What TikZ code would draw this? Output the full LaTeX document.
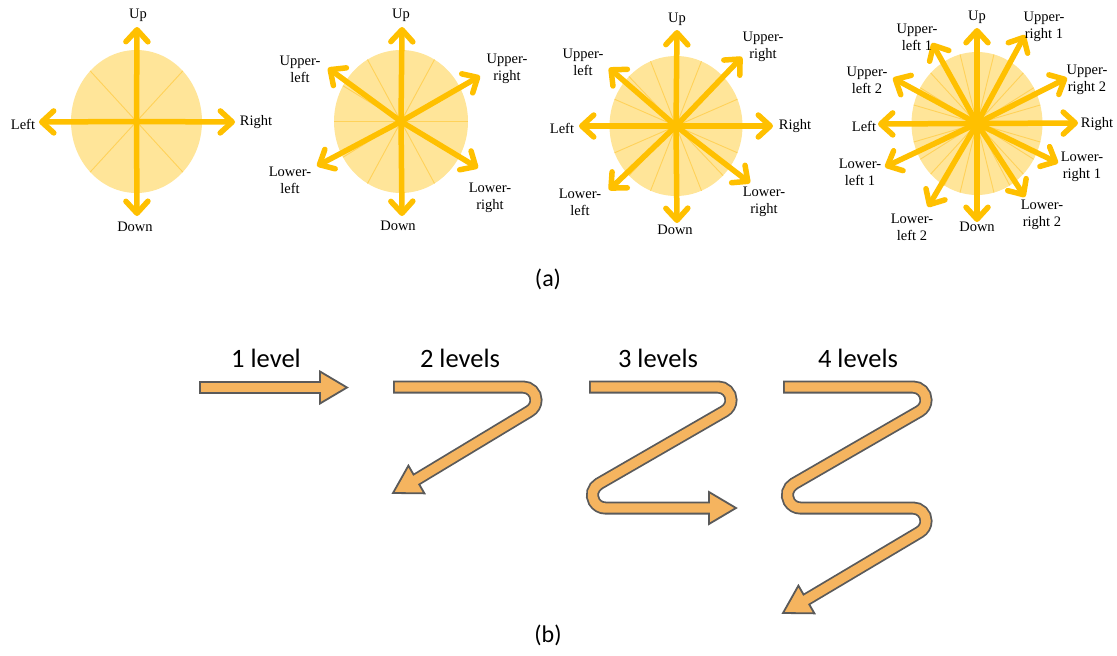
\documentclass[tikz,border=0pt]{standalone}
\usepackage{fontspec}
\setmainfont{Liberation Serif}
\newfontfamily\calibri{Carlito}
\usetikzlibrary{arrows.meta}
\definecolor{gold}{RGB}{255,192,0}
\definecolor{paleGold}{RGB}{255,229,153}
\definecolor{sectorLine}{RGB}{255,210,90}
\definecolor{bandFill}{RGB}{245,180,95}
\definecolor{bandEdge}{RGB}{90,90,90}
\tikzset{
  dirarrow/.style={gold, line width=5.5pt, line cap=round, -{Straight Barb[length=12pt,width=22pt,round]}},
  sector/.style={sectorLine, line width=0.9pt},
  dirlabel/.style={font=\fontsize{14.5}{17}\selectfont, align=center, inner sep=0pt},
  bandedge/.style={draw=bandEdge, line width=13pt, line cap=rect},
  bandfill/.style={draw=bandFill, line width=9.4pt, line cap=rect},
  bandhead/.style={fill=bandFill, draw=bandEdge, line width=1.8pt, line join=miter},
  levellabel/.style={font=\calibri\fontsize{26.5}{30}\selectfont, inner sep=0pt},
  panellabel/.style={font=\calibri\fontsize{24}{28}\selectfont, inner sep=0pt}
}
% band with tip: path, head base, heading
\newcommand{\levelband}[3]{%
  \draw[bandedge] #1;
  \filldraw[bandhead] (#2) +(#3+90:16) -- +(#3:27) -- +(#3-90:16) -- cycle;
  \draw[bandfill] #1;}
\begin{document}
\begin{tikzpicture}[x=1pt, y=-1pt]
\useasboundingbox (0,0) rectangle (1117,656);
% (a) four directions
\coordinate (c1) at (136.5,121.5);
\fill[paleGold] (c1) ellipse [x radius=65.5, y radius=71.5];
\foreach \t in {0,45,...,315} \draw[sector] (c1) -- ++({65.5*cos(\t)},{71.5*sin(\t)});
\foreach \x/\y in {137/27,137/216,39/122,235/122} \draw[dirarrow] (c1) -- (\x,\y);
\node[dirlabel] (up1) at (138,15) {Up};
\node[dirlabel] (down1) at (135,227) {Down};
\node[dirlabel] (left1) at (23,124) {Left};
\node[dirlabel] (right1) at (256,122) {Right};
% (a) six directions
\coordinate (c2) at (401,121.5);
\fill[paleGold] (c2) ellipse [x radius=67, y radius=71.5];
\foreach \t in {0,30,...,330} \draw[sector] (c2) -- ++({67*cos(\t)},{71.5*sin(\t)});
\foreach \x/\y in {402/27,402/216,328/68,480/76,317/166,478/168} \draw[dirarrow] (c2) -- (\x,\y);
\node[dirlabel] (up2) at (401,15) {Up};
\node[dirlabel] (down2) at (398,226) {Down};
\node[dirlabel] (ul2) at (300,69) {Upper-\\left};
\node[dirlabel] (ur2) at (507,69) {Upper-\\right};
\node[dirlabel] (ll2) at (290,180) {Lower-\\left};
\node[dirlabel] (lr2) at (490,198) {Lower-\\right};
% (a) eight directions
\coordinate (c3) at (676,126);
\fill[paleGold] (c3) ellipse [x radius=66.5, y radius=70];
\foreach \t in {0,22.5,...,337.5} \draw[sector] (c3) -- ++({66.5*cos(\t)},{70*sin(\t)});
\foreach \x/\y in {677/30,677/223,579/126,773/126,609/68,742/57,609/190,750/183} \draw[dirarrow] (c3) -- (\x,\y);
\node[dirlabel] (up3) at (677,19) {Up};
\node[dirlabel] (down3) at (675,230) {Down};
\node[dirlabel] (left3) at (562,128) {Left};
\node[dirlabel] (right3) at (795,126) {Right};
\node[dirlabel] (ul3) at (583,62) {Upper-\\left};
\node[dirlabel] (ur3) at (763,47) {Upper-\\right};
\node[dirlabel] (ll3) at (580,202) {Lower-\\left};
\node[dirlabel] (lr3) at (764,202) {Lower-\\right};
% (a) twelve directions
\coordinate (c4) at (977,123.5);
\fill[paleGold] (c4) ellipse [x radius=65.5, y radius=71.5];
\foreach \t in {0,15,...,345} \draw[sector] (c4) -- ++({65.5*cos(\t)},{71.5*sin(\t)});
\foreach \x/\y in {977/28,977/222,878/124,1078/123,1025/35,1067/78,1058/163,1025/197,932/43,893/78,885/167,928/207} \draw[dirarrow] (c4) -- (\x,\y);
\node[dirlabel] (up4) at (977,17) {Up};
\node[dirlabel] (down4) at (977,227) {Down};
\node[dirlabel] (left4) at (864,126) {Left};
\node[dirlabel] (right4) at (1097,124) {Right};
\node[dirlabel] (ur4a) at (1044,27) {Upper-\\right 1};
\node[dirlabel] (ur4b) at (1087,80) {Upper-\\right 2};
\node[dirlabel] (lr4a) at (1082,167) {Lower-\\right 1};
\node[dirlabel] (lr4b) at (1042,215) {Lower-\\right 2};
\node[dirlabel] (ul4a) at (917,37) {Upper-\\left 1};
\node[dirlabel] (ul4b) at (867,80) {Upper-\\left 2};
\node[dirlabel] (ll4a) at (860,172) {Lower-\\left 1};
\node[dirlabel] (ll4b) at (912,227) {Lower-\\left 2};
\node[panellabel] (capa) at (548,279) {(a)};
% (b) scan levels
\node[levellabel] (lev1) at (266,358) {1 level};
\node[levellabel] (lev2) at (460,358) {2 levels};
\node[levellabel] (lev3) at (658,358) {3 levels};
\node[levellabel] (lev4) at (858,358) {4 levels};
\levelband{(205.5,387.5) -- (320,387.5)}{320,387.5}{0}
\levelband{(399.5,387) -- (523,387) arc[start angle=-90,end angle=60,radius=13] -- (416.4,479.5)}{416.4,479.5}{150}
\levelband{(595.5,387) -- (718,387) arc[start angle=-90,end angle=60,radius=13] -- ++(150:145) arc[start angle=240,end angle=90,radius=13] -- (709,508)}{709,508}{0}
\levelband{(789.5,387) -- (913,387) arc[start angle=-90,end angle=60,radius=13] -- ++(150:145) arc[start angle=240,end angle=90,radius=13] -- (913,508) arc[start angle=-90,end angle=60,radius=13] -- (806.4,599.5)}{806.4,599.5}{150}
\node[panellabel] (capb) at (548,635) {(b)};
\end{tikzpicture}
\end{document}
